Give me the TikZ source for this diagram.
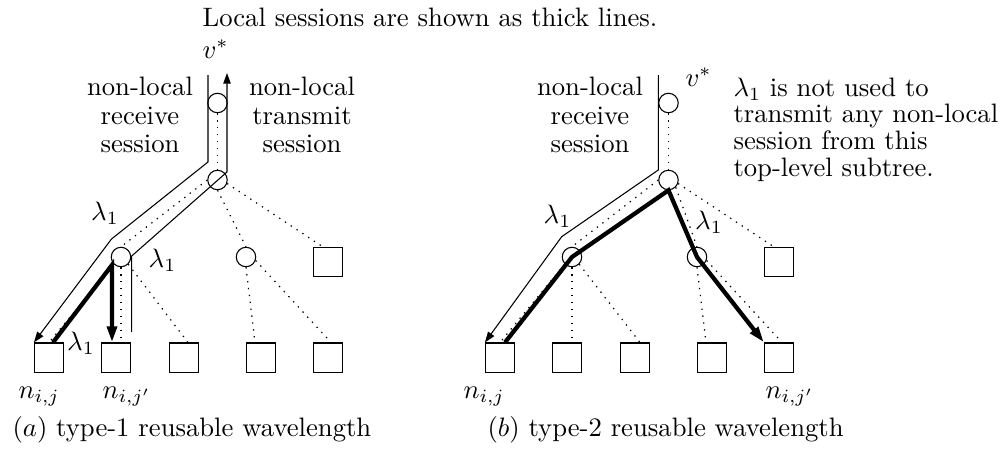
\documentclass[tikz,border=0pt]{standalone}
\usetikzlibrary{arrows.meta,calc}

\tikzset{
  vtx/.style={circle,draw,line width=0.4pt,minimum size=7.3pt,inner sep=0pt},
  leaf/.style={rectangle,draw,line width=0.4pt,minimum size=10.9pt,inner sep=0pt},
  treeedge/.style={line width=0.45pt,dash pattern=on 0.5pt off 2.1pt},
  remote/.style={line width=0.4pt},
  remotetip/.style={-{Triangle[length=4pt,width=2.8pt]}},
  localsess/.style={line width=1.6pt},
  localtip/.style={-{Triangle[length=6pt,width=3.6pt]}},
  lbl/.style={inner sep=0pt},
}

% one top-level subtree: root v*, subtree root, two inner nodes, six leaves
\newcommand{\placetree}{%
  \node[vtx]  (V)  at (217.5,103) {};
  \node[vtx]  (R)  at (217.5,180) {};
  \node[vtx]  (L)  at (121,257) {};
  \node[vtx]  (M)  at (246,257) {};
  \node[leaf] (T)  at (328,262) {};
  \node[leaf] (S1) at (49,357.5) {};
  \node[leaf] (S2) at (116,357.5) {};
  \node[leaf] (S3) at (184,357.5) {};
  \node[leaf] (S4) at (261,357.5) {};
  \node[leaf] (S5) at (328,357.5) {};
}

\begin{document}
\begin{tikzpicture}[x=0.375pt,y=-0.375pt]
\useasboundingbox (0,0) rectangle (1000,455);

\node[lbl,anchor=base] (title) at (430,26.5) {Local sessions are shown as thick lines.};

% ---------------- (a) type-1 ----------------
\begin{scope}[name prefix=a-]
  \placetree
\end{scope}

\draw[treeedge] (a-V.south) -- (a-R.north);
\draw[treeedge] (a-R.west) -- (a-L.north);
\draw[treeedge] (a-R.south) -- (a-M.north);
\draw[treeedge] (a-R.-20) -- ($(a-T.north)+(-5,0)$);
\draw[treeedge] (a-L.south west) -- (a-S1.north);
\draw[treeedge] (a-L.south) -- (a-L.south |- a-S2.north);
\draw[treeedge] (a-L.south east) -- ($(a-S3.north)+(4,0)$);
\draw[treeedge] (a-M.south) -- ($(a-S4.north)+(-6,0)$);
\draw[treeedge] (a-M.-20) -- ($(a-S5.north)+(3,0)$);

% non-local receive session
\coordinate (a-rx0) at (208,75);
\coordinate (a-rx1) at (208,162);
\coordinate (a-rx2) at (111.5,239);
\draw[remote,remotetip] (a-rx0) -- (a-rx1) -- (a-rx2) -- (a-S1.north west);

% non-local transmit session
\coordinate (a-tx0) at (131.7,332);
\coordinate (a-tx1) at (131.7,256);
\coordinate (a-tx2) at (227,172);
\coordinate (a-tx3) at (227,73);
\draw[remote,remotetip] (a-tx0) -- (a-tx1) -- (a-tx2) -- (a-tx3);

% local session
\coordinate (a-J) at (112,265);
\draw[localsess,localtip] ($(a-S1.north)+(4,0)$) -- (a-J) -- (a-J |- a-S2.north);

\node[lbl,anchor=base west] (a-vstar) at (202,58) {$v^*$};
\node[lbl,anchor=north,align=center] (a-recv) at (140,76.5)
  {non-local\\[-1.3pt]receive\\[-1.3pt]session};
\node[lbl,anchor=north,align=center] (a-send) at (302,76.5)
  {non-local\\[-1.3pt]transmit\\[-1.3pt]session};
\node[lbl] (a-lam1) at (105,213.5) {$\lambda_1$};
\node[lbl] (a-lam2) at (162.5,260) {$\lambda_1$};
\node[lbl] (a-lam3) at (81,343) {$\lambda_1$};
\node[lbl,anchor=base west] (a-nj)  at (18,398) {$n_{i,j}$};
\node[lbl,anchor=base west] (a-njp) at (102,398) {$n_{i,j'}$};
\node[lbl,anchor=base west] (a-cap) at (12,436.5) {$(a)$ type-1 reusable wavelength};

% ---------------- (b) type-2 ----------------
\begin{scope}[shift={(451,0)},name prefix=b-]
  \placetree
\end{scope}

\draw[treeedge] (b-V.south) -- (b-R.north);
\draw[treeedge] (b-R.west) -- (b-L.north);
\draw[treeedge] (b-R.south east) -- (b-M.north);
\draw[treeedge] (b-R.-20) -- ($(b-T.north)+(-5,0)$);
\draw[treeedge] (b-L.south west) -- (b-S1.north);
\draw[treeedge] (b-L.south) -- (b-L.south |- b-S2.north);
\draw[treeedge] (b-L.south east) -- ($(b-S3.north)+(5,0)$);
\draw[treeedge] (b-M.south) -- ($(b-S4.north)+(-6,0)$);
\draw[treeedge] (b-M.-20) -- ($(b-S5.north)+(3,0)$);

% non-local receive session
\coordinate (b-rx0) at (658.3,75);
\coordinate (b-rx1) at (658.3,170);
\coordinate (b-rx2) at (561.7,236.7);
\draw[remote,remotetip] (b-rx0) -- (b-rx1) -- (b-rx2) -- (b-S1.north west);

% local session
\draw[localsess,localtip] ($(b-S1.north)+(5,0)$) -- (b-L.center) -- (b-R.south)
  -- (b-M.center) -- (b-S5.north west);

\node[lbl,anchor=base west] (b-vstar) at (685,86.5) {$v^*$};
\node[lbl,anchor=north,align=center] (b-recv) at (590,76.5)
  {non-local\\[-1.3pt]receive\\[-1.3pt]session};
\node[lbl,anchor=north west,align=left] (b-note) at (733,77)
  {$\lambda_1$ is not used to\\[-2pt]transmit any non-local\\[-2pt]session from this\\[-2pt]top-level subtree.};
\node[lbl] (b-lam1) at (557.5,216.7) {$\lambda_1$};
\node[lbl] (b-lam2) at (709,222) {$\lambda_1$};
\node[lbl,anchor=base west] (b-nj)  at (463,398) {$n_{i,j}$};
\node[lbl,anchor=base west] (b-njp) at (765,398) {$n_{i,j'}$};
\node[lbl,anchor=base west] (b-cap) at (487,436.5) {$(b)$ type-2 reusable wavelength};

\end{tikzpicture}
\end{document}
